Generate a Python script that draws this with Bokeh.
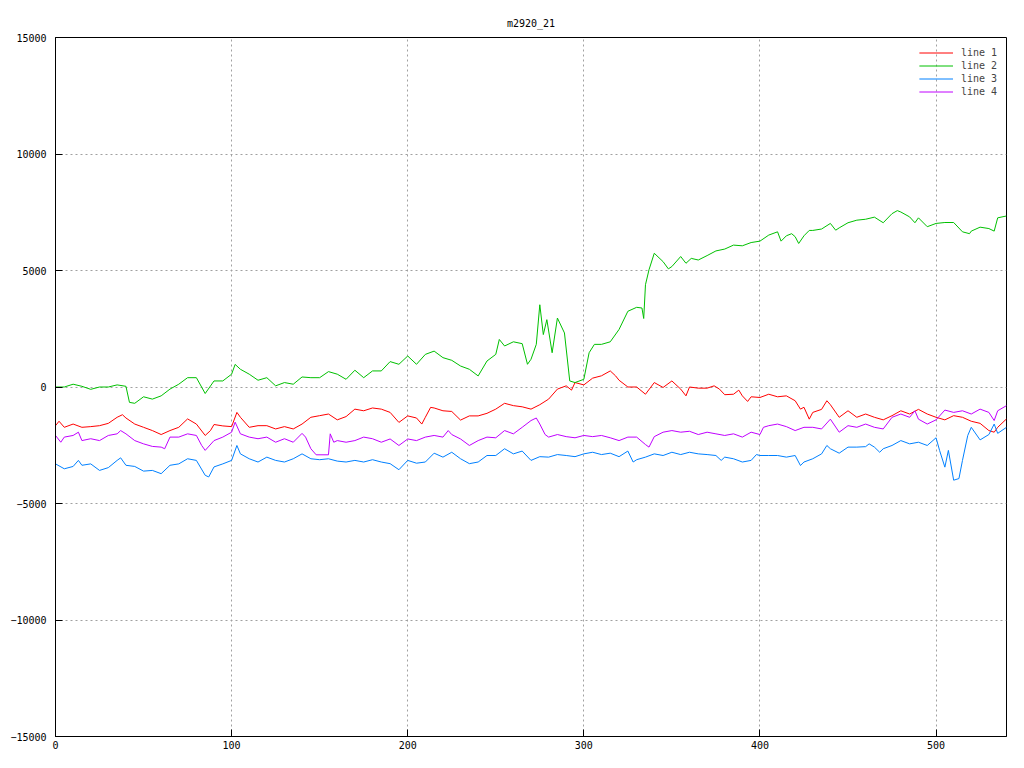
from bokeh.plotting import figure
from bokeh.models import Range1d, FixedTicker, Legend, LegendItem
from bokeh.embed import file_html
from bokeh.resources import INLINE

title_text = "m2920_21"
series_names = ["line 1", "line 2", "line 3", "line 4"]
series_colors = ["#ff0000", "#00c000", "#0080ff", "#c000ff"]
x_ticks = [0, 100, 200, 300, 400, 500]
y_ticks = [-15000, -10000, -5000, 0, 5000, 10000, 15000]

# line 1 (red)
x1 = [0, 2, 5, 10, 15, 20, 25, 30, 35, 38, 40, 45, 50, 55, 60, 65, 70, 75, 80, 85, 88, 90, 95, 100,
      103, 105, 110, 115, 120, 125, 130, 135, 140, 145, 150, 155, 160, 165, 170, 175, 180,
      185, 190, 195, 200, 205, 208, 210, 213, 215, 220, 225, 230, 235, 240, 245, 250, 255, 260,
      265, 270, 275, 280, 285, 290, 293, 295, 300, 305, 310, 315, 318, 320, 325, 330, 335, 340,
      345, 350, 355, 358, 360, 365, 370, 374, 377, 380, 385, 388, 390, 393, 395, 400, 405, 410,
      415, 420, 423, 425, 428, 430, 435, 438, 440, 445, 450, 455, 460, 465, 470, 475, 480, 485,
      490, 495, 500, 505, 510, 515, 520, 525, 530, 533, 535, 540]
y1 = [-1660, -1470, -1730, -1590, -1730, -1700, -1660, -1560, -1300, -1190, -1330, -1590, -1730,
      -1870, -2040, -1870, -1730, -1370, -1590, -2080, -1870, -1610, -1670, -1700,
      -1090, -1300, -1730, -1660, -1660, -1800, -1700, -1800, -1590, -1300, -1230, -1160, -1410,
      -1270, -950, -1020, -900,
      -950, -1090, -1520, -1240, -1330, -1590, -1300, -875, -900, -1020, -1050, -1420, -1240,
      -1240, -1130, -950, -700, -800, -850, -950, -760, -520, -90, 50, -135, 190, 90, 380, 480,
      690, 480, 290, 0, 0, -310, 190, -20, 260, -90, -380, 0, -50, -50, 50, -90, -330, -310, -135,
      -380, -620, -420, -450, -310, -420, -380, -590, -950, -870, -1380, -1090, -960, -590, -760,
      -1300, -1020, -1300, -1160, -1300, -1410, -1230, -1020, -1160, -960, -1160, -1300, -1410,
      -1230, -1300, -1470, -1560, -1870, -1940, -1730, -1370]

# line 2 (green)
x2 = [0, 5, 10, 15, 20, 25, 30, 35, 40, 42, 45, 50, 55, 60, 65, 70, 75, 80, 85, 90, 95, 100, 102,
      105, 110, 115, 120, 125, 130, 135, 140, 145, 150, 155, 160, 165, 170, 175, 180,
      185, 190, 195, 200, 205, 210, 215, 220, 225, 230, 235, 240, 245, 250, 252, 255, 260, 265,
      268, 270, 273, 275, 277, 279, 282, 285, 289, 292, 295, 300, 303, 306, 310, 315, 320, 325,
      330, 333, 334, 335, 337, 340, 345, 348, 350, 355, 358, 361, 365, 370, 375, 380, 385, 390,
      395, 400, 405, 410, 412, 415, 418, 420, 422, 425, 428, 430, 435, 440, 443, 445, 450, 455,
      460, 465, 470, 475, 478, 480, 485, 488, 490, 495, 500, 505, 510, 515, 519, 520, 525, 530,
      533, 535, 540]
y2 = [0, 0, 120, 30, -100, 0, 0, 90, 30, -660, -700, -420, -520, -380, -90, 120, 400, 400, -280,
      260, 260, 550, 970, 760, 550, 290, 400, 50, 190, 120, 430, 400, 400, 660, 550, 330, 720, 400,
      690,
      690, 1090, 975, 1330, 975, 1400, 1540, 1260, 1145, 900, 760, 475, 1115, 1400, 2040, 1760,
      1940, 1860, 975, 1190, 1830, 3530, 2250, 2890, 1470, 2960, 2320, 260, 190, 330, 1470, 1830,
      1830, 1940, 2470, 3250, 3420, 3390, 2940, 4390, 5030, 5740, 5380, 5070, 5170, 5600, 5310,
      5520, 5450, 5640, 5840, 5920, 6090, 6060, 6200, 6260, 6520, 6660, 6260, 6490, 6580, 6450,
      6160, 6490, 6720, 6720, 6780, 7020, 6730, 6830, 7050, 7160, 7200, 7290, 7050, 7440, 7570,
      7510, 7300, 7050, 7260, 6880, 7020, 7060, 7060, 6660, 6580, 6690, 6860, 6800, 6690, 7260,
      7340]

# line 3 (blue)
x3 = [0, 5, 10, 13, 15, 20, 25, 30, 35, 37, 40, 45, 50, 55, 60, 65, 70, 75, 80, 85, 87, 90, 95,
      100, 103, 105, 110, 115, 120, 125, 130, 135, 140, 145, 150, 155, 160, 165, 170, 175, 180,
      185, 190, 195, 200, 205, 210, 215, 220, 225, 230, 235, 240, 245, 250, 255, 260, 265, 270,
      275, 280, 285, 290, 295, 300, 305, 310, 315, 320, 325, 328, 330, 335, 340, 345, 350, 355,
      360, 365, 370, 375, 378, 380, 385, 390, 395, 398, 400, 405, 410, 415, 420, 423, 425, 430,
      435, 438, 440, 445, 450, 455, 460, 462, 465, 468, 470, 475, 480, 485, 490, 495, 500, 502,
      505, 507, 510, 513, 515, 518, 520, 525, 530, 533, 535, 540]
y3 = [-3300, -3510, -3410, -3150, -3360, -3300, -3580, -3460, -3150, -3040, -3360, -3410, -3610,
      -3580, -3720, -3360, -3300, -3080, -3150, -3790, -3860, -3430, -3300, -3150, -2510, -2870,
      -3080, -3220, -3010, -3150, -3220, -3080, -2870, -3080, -3120, -3080, -3180, -3220, -3150,
      -3220, -3120,
      -3220, -3290, -3550, -3150, -3270, -3220, -2840, -3010, -2800, -3080, -3290, -3220, -2940,
      -2940, -2650, -2870, -2750, -3150, -2990, -3010, -2900, -2940, -2990, -2870, -2800, -2900,
      -2840, -2990, -2750, -3220, -3120, -3010, -2870, -2940, -2800, -2900, -2800, -2870, -2900,
      -2940, -3150, -3010, -3080, -3220, -3150, -2900, -2940, -2940, -2940, -3010, -2940, -3370,
      -3220, -3080, -2870, -2510, -2650, -2840, -2580, -2580, -2560, -2440, -2580, -2800, -2650,
      -2510, -2300, -2440, -2370, -2510, -2180, -2720, -3440, -2720, -4000, -3930, -3150, -2080,
      -1730, -2270, -2040, -1590, -1990, -1730]

# line 4 (magenta)
x4 = [0, 3, 5, 10, 13, 15, 20, 25, 30, 35, 37, 40, 45, 50, 55, 60, 62, 65, 70, 75, 80, 83, 85, 90,
      95, 100, 102, 105, 110, 115, 120, 125, 130, 135, 140, 142, 145, 148, 155, 156, 158, 160, 165,
      170, 175, 180,
      185, 190, 195, 200, 205, 210, 215, 220, 223, 225, 230, 235, 240, 245, 250, 255, 260, 265,
      270, 273, 275, 278, 280, 285, 290, 295, 300, 305, 310, 315, 320, 325, 330, 335, 337, 340,
      345, 350, 355, 360, 365, 370, 375, 380, 385, 390, 395, 400, 402, 405, 410, 415, 420, 425,
      430, 435, 440, 445, 450, 455, 460, 465, 470, 475, 480, 485, 488, 490, 495, 500, 505, 510,
      515, 520, 525, 530, 533, 535, 540]
y4 = [-2080, -2370, -2150, -2080, -1940, -2300, -2220, -2300, -2080, -2010, -1870, -2010, -2300,
      -2440, -2550, -2580, -2650, -2150, -2150, -2010, -2080, -2510, -2720, -2300, -2150, -1940,
      -1510, -2010, -2150, -2220, -2150, -2370, -2220, -2370, -1990, -2150, -2650, -2910, -2910,
      -2010, -2370, -2300, -2370, -2300, -2150, -2220,
      -2370, -2230, -2510, -2230, -2300, -2150, -2080, -2150, -1870, -2040, -2230, -2510, -2300,
      -2150, -2180, -1870, -2010, -1730, -1440, -1330, -1590, -2040, -2150, -2040, -2130, -2180,
      -2080, -2130, -2080, -2180, -2300, -2150, -2150, -2470, -2580, -2130, -1940, -1870, -1940,
      -1900, -2040, -1940, -2010, -2080, -2010, -2150, -1940, -2040, -1730, -1660, -1590, -1700,
      -1870, -1730, -1730, -1800, -1380, -1940, -1660, -1730, -1590, -1730, -1800, -1300, -1160,
      -1300, -1020, -1380, -1590, -1410, -990, -1090, -1020, -1160, -950, -1090, -1440, -1020,
      -800]

FONT = "DejaVu Sans Mono"

p = figure(width=1008, height=752, output_backend="svg", toolbar_location=None,
           x_range=Range1d(0, 540), y_range=Range1d(-15000, 15000),
           min_border_left=55, min_border_right=2, min_border_top=37, min_border_bottom=16)

p.title.text = title_text
p.title.align = "center"
p.title.text_font = FONT
p.title.text_font_size = "10px"
p.title.text_font_style = "normal"
p.title.text_color = "black"
p.title.standoff = 18

p.outline_line_color = "black"
p.outline_line_alpha = 1.0
p.outline_line_width = 1
p.background_fill_color = "white"
p.border_fill_color = "white"

for ax, ticks in ((p.xaxis[0], x_ticks), (p.yaxis[0], y_ticks)):
    ax.ticker = FixedTicker(ticks=ticks)
    ax.major_tick_in = 7
    ax.major_tick_out = 0
    ax.minor_tick_line_color = None
    ax.axis_line_color = "black"
    ax.major_tick_line_color = "black"
    ax.major_label_text_font = FONT
    ax.major_label_text_font_size = "10px"
    ax.major_label_text_color = "black"
p.xaxis[0].major_label_standoff = 4
p.yaxis[0].major_label_standoff = 9

p.xgrid[0].ticker = FixedTicker(ticks=x_ticks)
p.ygrid[0].ticker = FixedTicker(ticks=y_ticks)
for g in (p.xgrid[0], p.ygrid[0]):
    g.grid_line_color = "#a0a0a0"
    g.grid_line_dash = "2 3"
    g.grid_line_width = 1

items = []
for xs, ys, name, col in ((x1, y1, series_names[0], series_colors[0]),
                          (x2, y2, series_names[1], series_colors[1]),
                          (x3, y3, series_names[2], series_colors[2]),
                          (x4, y4, series_names[3], series_colors[3])):
    r = p.line(xs, ys, line_color=col, line_width=1)
    items.append(LegendItem(label=name, renderers=[r]))

legend = Legend(items=items, location="top_right", margin=9, padding=0, spacing=0,
                label_height=13, glyph_height=13, glyph_width=34, label_standoff=8,
                label_text_font=FONT, label_text_font_size="10px",
                border_line_color=None, background_fill_alpha=0)
p.add_layout(legend, "center")

open("out.html", "w").write(file_html(p, INLINE))
